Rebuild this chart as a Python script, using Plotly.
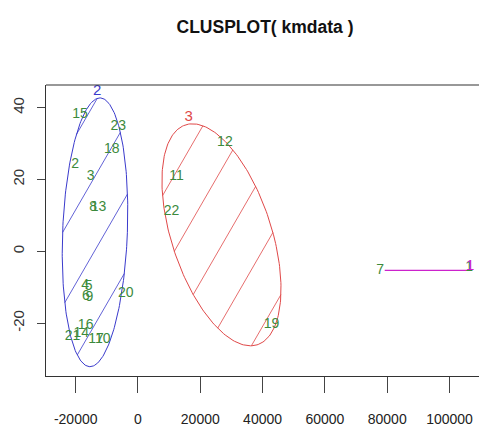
import numpy as np
import plotly.graph_objects as go

# ---------------- data ----------------
title_text = "CLUSPLOT( kmdata )"

# observation labels with their two components
obs_labels = ["1", "7",
              "11", "12", "19", "22",
              "2", "3", "4", "5", "6", "8", "9", "10", "13", "14", "15", "16", "17", "18", "20", "21", "23"]
obs_x = [106300, 77700,
         12400, 27900, 42900, 10800,
         -20200, -15200, -17000, -15800, -16700, -14400, -15600, -11300, -12700, -18200, -18600, -16800, -13500, -8400, -3900, -21000, -6300]
obs_y = [-4.6, -5.4,
         20.9, 30.2, -20.5, 11.1,
         24.1, 20.9, -9.6, -9.9, -12.5, 12.1, -12.8, -24.6, 12.1, -23.0, 38.1, -20.6, -24.6, 28.3, -11.7, -23.6, 34.8]

# cluster ellipses: center, half-axes (A: x extent, C: x-shear at top, B: y extent)
clus_names = ["1", "2", "3"]
clus_colors = ["#cc22cc", "#3a3acc", "#e04848"]
clus_cx = [92500, -13800, 26800]
clus_cy = [-5.3, 5.3, 4.6]
clus_A = [13300, 10400, 16700]
clus_C = [0, 1600, -9300]
clus_B = [0.0, 37.4, 30.9]
clus_label_x = [106600, -13100, 16300]
clus_label_y = [-4.2, 44.6, 37.2]

x_ticks = [-20000, 0, 20000, 40000, 60000, 80000, 100000]
y_ticks = [-20, 0, 20, 40]
x_range = [-29530, 109470]
y_range = [-34.7, 46.3]

# ---------------- layout geometry ----------------
W, H = 479, 442
ml, mr, mt, mb = 46, 0, 85, 66
pw, ph = W - ml - mr, H - mt - mb
sx = pw / (x_range[1] - x_range[0])
sy = ph / (y_range[1] - y_range[0])

FONT = "Liberation Sans, Arial, sans-serif"

fig = go.Figure()

hatch = {1: (60.0, 37.0, 28.0), 2: (60.0, 38.0, -5.4)}

t = np.linspace(0, 2 * np.pi, 241)
for i, name in enumerate(clus_names):
    cx, cy, A, C, B = clus_cx[i], clus_cy[i], clus_A[i], clus_C[i], clus_B[i]
    col = clus_colors[i]
    if B == 0:
        fig.add_trace(go.Scatter(x=[cx - A, cx + A], y=[cy, cy], mode="lines",
                                 line=dict(color=col, width=1.3),
                                 hoverinfo="skip", showlegend=False))
        continue
    ex = cx + A * np.cos(t) + C * np.sin(t)
    ey = cy + B * np.sin(t)
    fig.add_trace(go.Scatter(x=ex, y=ey, mode="lines", line=dict(color=col, width=1),
                             hoverinfo="skip", showlegend=False))
    # hatch lines computed in pixel space
    phi, spacing, phase = hatch[i]
    ph_r = np.deg2rad(phi)
    n = np.array([-np.sin(ph_r), np.cos(ph_r)])
    M = np.array([[A * sx, C * sx], [0.0, B * sy]])
    m = M.T @ n
    mm = np.linalg.norm(m)
    perp = np.array([-m[1], m[0]]) / mm
    hx, hy = [], []
    for k in range(-10, 11):
        s = k * spacing + phase
        if abs(s) >= mm:
            continue
        base = (s / mm ** 2) * m
        h = np.sqrt(1 - (s / mm) ** 2)
        for sign in (1, -1):
            u = base + sign * h * perp
            p = M @ u
            hx.append(cx + p[0] / sx)
            hy.append(cy + p[1] / sy)
        hx.append(None)
        hy.append(None)
    fig.add_trace(go.Scatter(x=hx, y=hy, mode="lines", line=dict(color=col, width=0.8),
                             hoverinfo="skip", showlegend=False))

# observation labels
fig.add_trace(go.Scatter(x=obs_x, y=obs_y, mode="text", text=obs_labels,
                         textfont=dict(family=FONT, size=14, color="#3c8a3c"),
                         hoverinfo="skip", showlegend=False))

# cluster labels
fig.add_trace(go.Scatter(x=clus_label_x, y=clus_label_y, mode="text", text=clus_names,
                         textfont=dict(family=FONT, size=15, color=clus_colors),
                         hoverinfo="skip", showlegend=False))

# top border of the box (right side lies beyond the picture)
fig.add_shape(type="line", xref="paper", yref="paper", x0=0, x1=1, y0=1, y1=1,
              line=dict(color="#333333", width=1.2))

fig.update_layout(
    width=W, height=H,
    margin=dict(l=ml, r=mr, t=mt, b=mb, pad=0, autoexpand=False),
    paper_bgcolor="white", plot_bgcolor="white",
    title=dict(text="<b>" + title_text + "</b>", x=265 / W, xanchor="center",
               y=1 - 27 / H, yanchor="middle", yref="container",
               font=dict(family=FONT, size=17.5, color="#111111")),
    font=dict(family=FONT),
)
fig.update_xaxes(range=x_range, tickvals=x_ticks, ticktext=[str(v) for v in x_ticks],
                 showgrid=False, zeroline=False, showline=True, mirror=False,
                 linecolor="#333333", linewidth=1.2, automargin=False,
                 ticks="outside", ticklen=16, tickcolor="#444444", tickwidth=1,
                 ticklabelstandoff=14,
                 tickfont=dict(family=FONT, size=14, color="#222222"))
fig.update_yaxes(range=y_range, tickvals=y_ticks, ticktext=[str(v) for v in y_ticks],
                 showgrid=False, zeroline=False, showline=True, mirror=False,
                 linecolor="#333333", linewidth=1.2, automargin=False,
                 ticks="outside", ticklen=8, tickcolor="#444444", tickwidth=1,
                 tickangle=-90, ticklabelstandoff=7,
                 tickfont=dict(family=FONT, size=15, color="#333333"))

fig.write_html("out.html", config={"displayModeBar": False},
               post_script="document.body.style.margin='0';document.body.style.overflow='hidden';")
